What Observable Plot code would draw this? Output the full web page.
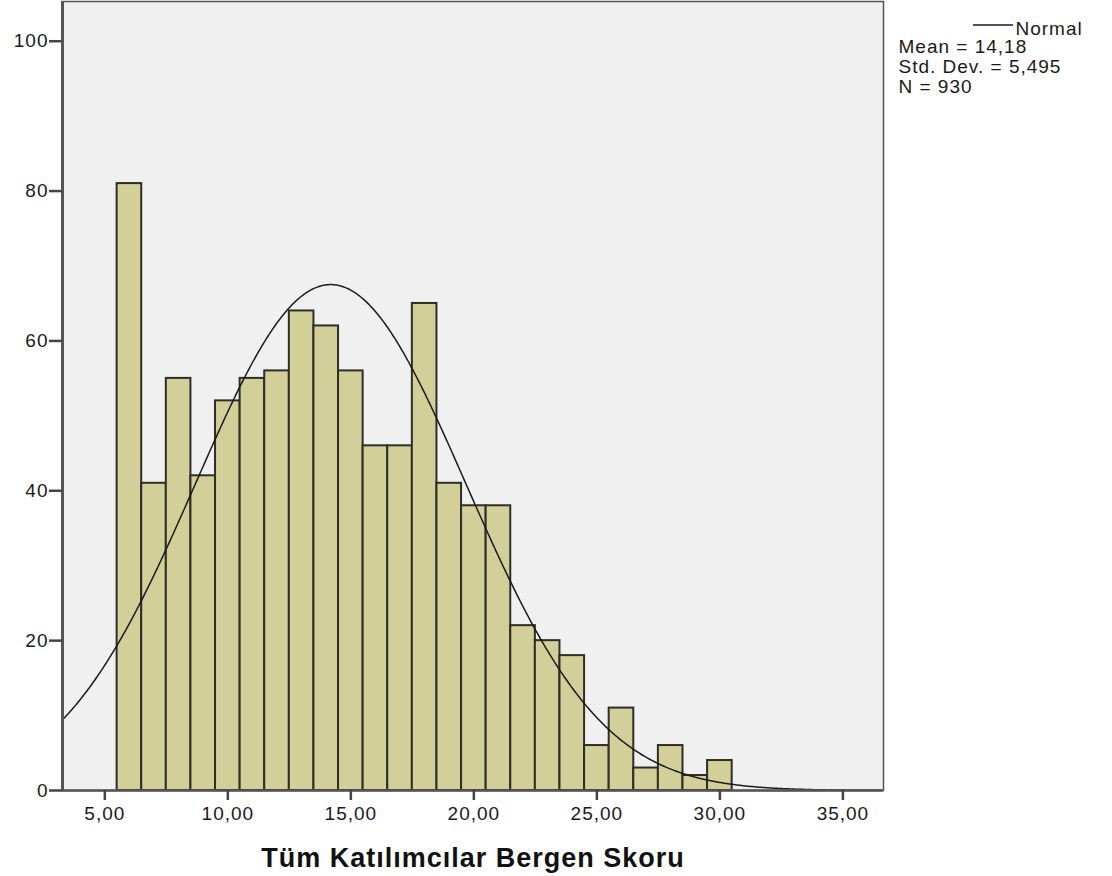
<!DOCTYPE html>
<html>
<head>
<meta charset="utf-8">
<script src="https://cdn.jsdelivr.net/npm/d3@7"></script>
<script src="https://cdn.jsdelivr.net/npm/@observablehq/plot@0.6"></script>
<style>
  html, body { margin: 0; padding: 0; background: #fff; }
  #chart svg { display: block; }
</style>
</head>
<body>
<div id="chart"></div>
<script>
// Bin centres (bin width 1) and counts
const binCenters = [6, 7, 8, 9, 10, 11, 12, 13, 14, 15, 16, 17, 18, 19, 20, 21, 22, 23, 24, 25, 26, 27, 28, 29, 30];
const binCounts  = [81, 41, 55, 42, 52, 55, 56, 64, 62, 56, 46, 46, 65, 41, 38, 38, 22, 20, 18, 6, 11, 3, 6, 2, 4];
const binWidth = 1;

// Normal curve parameters (from the legend)
const normalMean = 14.18;
const normalSD = 5.495;
const normalN = 930;

const xTicks = [5, 10, 15, 20, 25, 30, 35];
const yTicks = [0, 20, 40, 60, 80, 100];
const xTitle = "Tüm Katılımcılar Bergen Skoru";
const legendLines = ["Mean = 14,18", "Std. Dev. = 5,495", "N = 930"];
const legendCurveLabel = "Normal";

const xDomain = [3.28, 36.65];
const yDomain = [0, 105.3];

const bars = binCenters.map((c, i) => ({x1: c - binWidth / 2, x2: c + binWidth / 2, count: binCounts[i]}));

// Normal density scaled to counts: N * binWidth * pdf(x)
const curveXs = d3.range(xDomain[0], xDomain[1] + 0.001, 0.05);
const curve = curveXs.map(x => ({
  x,
  y: normalN * binWidth * Math.exp(-0.5 * ((x - normalMean) / normalSD) ** 2) / (normalSD * Math.sqrt(2 * Math.PI))
}));

const fmt = d => d.toFixed(2).replace(".", ",");

const chart = Plot.plot({
  width: 1112,
  height: 876,
  marginLeft: 62,
  marginRight: 229,
  marginTop: 1,
  marginBottom: 86,
  x: {domain: xDomain},
  y: {domain: yDomain},
  style: {
    background: "#ffffff",
    fontFamily: "Arial, 'Liberation Sans', sans-serif",
    fontSize: "19px",
    color: "#1a1a1a"
  },
  marks: [
    Plot.frame({fill: "#f0f0f0", stroke: null}),
    Plot.rectY(bars, {x1: "x1", x2: "x2", y: "count", fill: "#d3cf98", stroke: "#2e2e28", strokeWidth: 2}),
    Plot.line(curve, {x: "x", y: "y", stroke: "#1a1a1a", strokeWidth: 1.5, clip: true}),
    Plot.frame({stroke: "#555", strokeWidth: 1.5}),
    Plot.ruleX([xDomain[0]], {stroke: "#555", strokeWidth: 3}),
    Plot.ruleY([yDomain[0]], {stroke: "#555", strokeWidth: 2.5}),
    Plot.axisX({ticks: xTicks, tickFormat: fmt, tickSize: 10, tickPadding: 6, strokeWidth: 2.5, stroke: "#444", label: null, fill: "#1a1a1a"}),
    Plot.axisY({ticks: yTicks, tickSize: 13, tickPadding: 1, strokeWidth: 2.5, stroke: "#444", label: null, fill: "#1a1a1a"}),
    Plot.text([xTitle], {frameAnchor: "bottom", dy: 76, lineAnchor: "bottom", fontSize: 27, fontWeight: "bold", fill: "#111"}),
    Plot.text([legendCurveLabel], {frameAnchor: "top-right", dx: 132, dy: 27, textAnchor: "start", lineAnchor: "middle", fill: "#1a1a1a"}),
    Plot.text([legendLines.join("\n")], {frameAnchor: "top-right", dx: 15, dy: 38, textAnchor: "start", lineAnchor: "top", lineHeight: 1.03, fill: "#1a1a1a"})
  ]
});

const svg = d3.select(chart);
svg.selectAll("text").attr("letter-spacing", "1px");
// legend line swatch
const fx = 1112 - 229;
svg.append("line")
  .attr("x1", fx + 90).attr("x2", fx + 130)
  .attr("y1", 25).attr("y2", 25)
  .attr("stroke", "#1a1a1a").attr("stroke-width", 1.5);

document.getElementById("chart").appendChild(chart);
</script>
</body>
</html>
